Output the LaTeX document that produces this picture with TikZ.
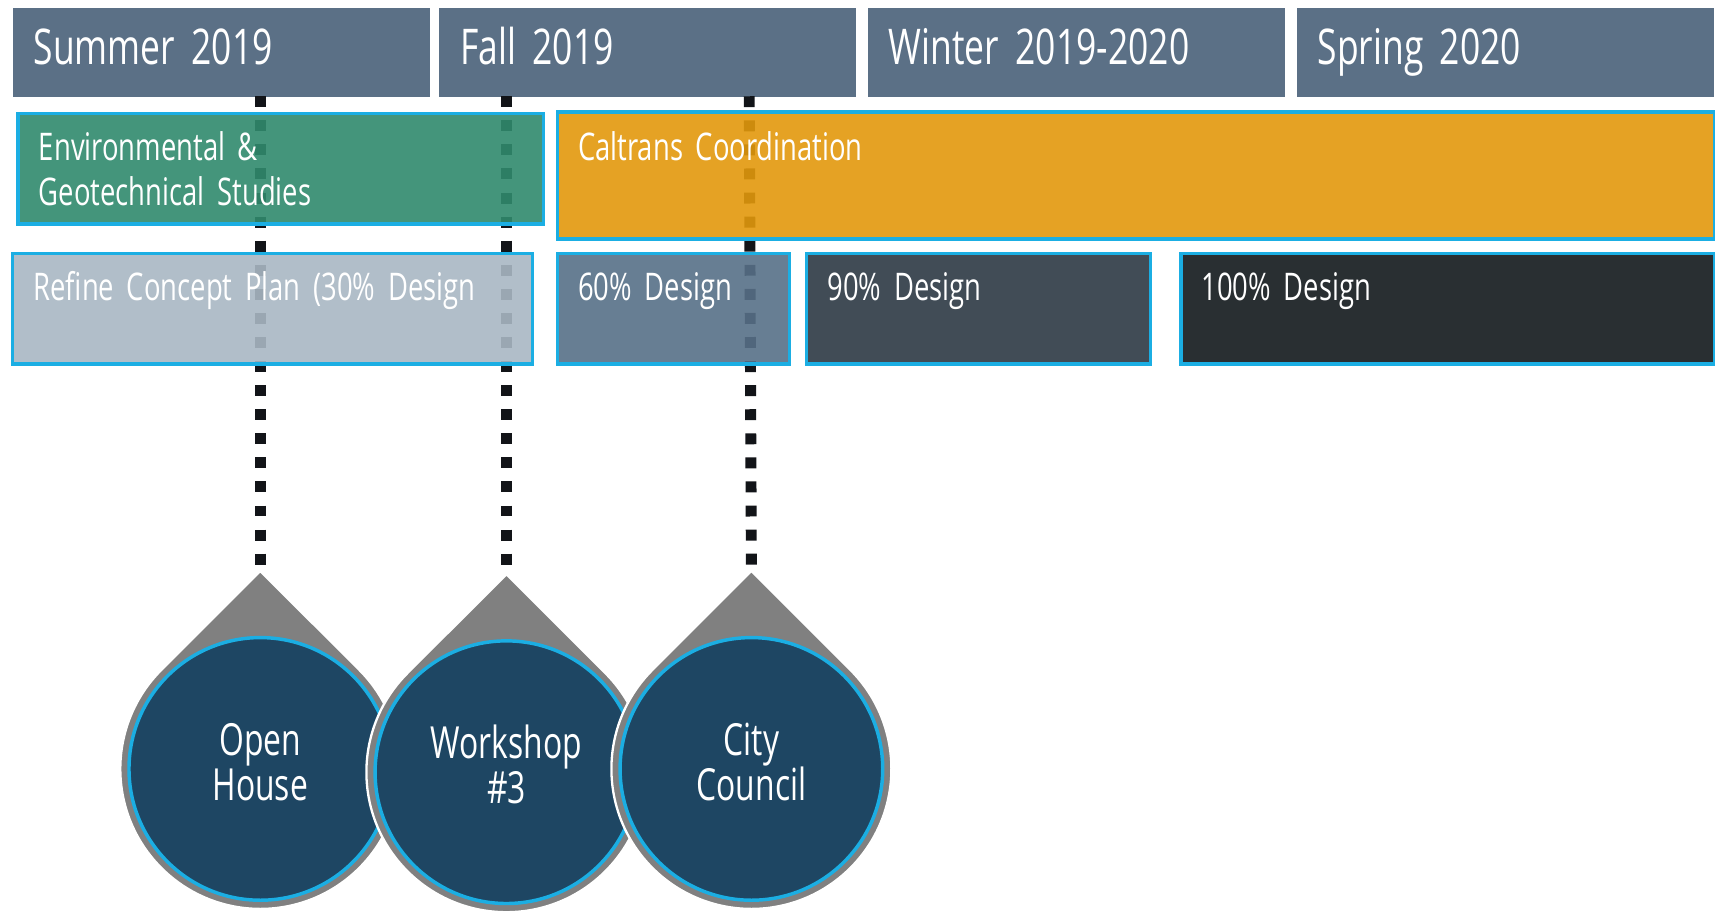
\documentclass[tikz,border=0pt]{standalone}
\usepackage{fontspec}
\setmainfont{Open Sans}[FakeStretch=0.72, WordSpace=0.62]
\usetikzlibrary{calc}
\definecolor{headblue}{RGB}{91,112,134}
\definecolor{envgreen}{RGB}{48,138,109}
\definecolor{caltransorange}{RGB}{226,152,12}
\definecolor{refinegray}{RGB}{169,183,195}
\definecolor{sixtyblue}{RGB}{87,112,135}
\definecolor{ninetygray}{RGB}{44,56,68}
\definecolor{hundredgray}{RGB}{18,24,28}
\definecolor{edgecyan}{RGB}{27,174,227}
\definecolor{dropgray}{RGB}{128,128,128}
\definecolor{circleblue}{RGB}{30,70,99}
\definecolor{dotblack}{RGB}{18,20,24}
\def\teardrop(#1){\fill[dropgray, draw=white, line width=0.6pt] ($(#1)+(0,181)$) -- ($(#1)+(45:128)$) arc (45:-225:128) -- cycle;}
\tikzset{
	season/.style={fill=headblue, text=white, anchor=north west, inner xsep=0.19cm, inner ysep=0pt, text width=3.43cm, text height=0.51cm, text depth=0.30cm, align=left, font=\fontsize{12.8}{15}\selectfont},
	phase/.style={draw=edgecyan, line width=0.9pt, fill opacity=0.9, text opacity=1, text=white, anchor=north west, inner xsep=0.19cm, inner ysep=0pt, text height=0.43cm, text depth=0.58cm, align=left, font=\fontsize{9.9}{11.7}\selectfont},
	dotline/.style={dotblack, line width=0.1cm, dash pattern=on 0.1cm off 0.12cm},
	meeting/.style={circle, fill=circleblue, draw=edgecyan, line width=0.9pt, minimum size=2.4cm, inner sep=0pt, text=white, align=center, text height=0.70cm, text depth=0.12cm, font=\fontsize{11.5}{11.7}\selectfont}
}

\begin{document}
\begin{tikzpicture}[x=0.01cm, y=0.01cm]
		%%%%% START %%%%%
		\useasboundingbox (0, 0) rectangle (1568, 832);
		
		\node[season] (summer) at (11, 825) {Summer 2019};
		\node[season] (fall) at (401, 825) {Fall 2019};
		\node[season] (winter) at (793, 825) {Winter 2019-2020};
		\node[season] (spring) at (1185, 825) {Spring 2020};
		
		\coordinate (openc) at (238, 129);
		\coordinate (workshopc) at (463, 126);
		\coordinate (councilc) at (687, 129);
		\coordinate (opentip) at ($(openc)+(0,181)$);
		\coordinate (workshoptip) at ($(workshopc)+(0,181)$);
		\coordinate (counciltip) at ($(councilc)+(0,181)$);
		\coordinate (openmark) at (238, 744);
		\coordinate (workshopmark) at (463, 744);
		\coordinate (councilmark) at (685, 744);
		
		\draw[dotline] (openmark) -- (opentip);
		\draw[dotline] (workshopmark) -- (workshoptip);
		\draw[dotline] (councilmark) -- (counciltip);
		
		\node[phase, fill=envgreen, text width=4.42cm] (env) at (15, 730) {Environmental \&\\Geotechnical Studies};
		\node[phase, fill=caltransorange, text width=10.2cm, text height=0.44cm, text depth=0.72cm] (caltrans) at (508, 731) {Caltrans Coordination};
		
		\node[phase, fill=refinegray, text width=4.37cm] (refine) at (10, 602) {Refine Concept Plan (30\% Design};
		\node[phase, fill=sixtyblue, text width=1.74cm] (sixty) at (508, 602) {60\% Design};
		\node[phase, fill=ninetygray, text width=2.76cm] (ninety) at (736, 602) {90\% Design};
		\node[phase, fill=hundredgray, text width=4.5cm] (hundred) at (1078, 602) {100\% Design};
		
		\teardrop(openc)
		\node[meeting] (open) at (openc) {Open\\House};
		\teardrop(workshopc)
		\node[meeting] (workshop) at (workshopc) {Workshop\\\#3};
		\teardrop(councilc)
		\node[meeting] (council) at (councilc) {City\\Council};
		
		%%%%% END %%%%%
	\end{tikzpicture}
\end{document}
